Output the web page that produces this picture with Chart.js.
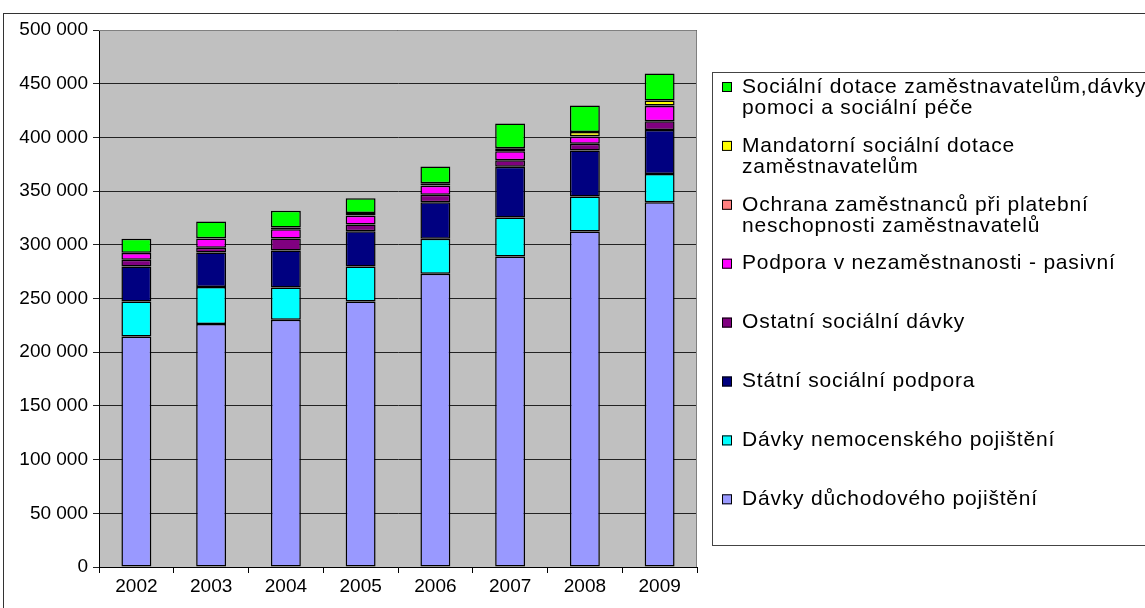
<!DOCTYPE html>
<html>
<head>
<meta charset="utf-8">
<script src="https://cdn.jsdelivr.net/npm/chart.js@4/dist/chart.umd.min.js"></script>
<style>
  html, body { margin: 0; padding: 0; background: #fff; overflow: hidden; }
  canvas { display: block; }
</style>
</head>
<body>
<canvas id="chart" width="1145" height="608"></canvas>
<script>
// data (approx.)
const years = ['2002', '2003', '2004', '2005', '2006', '2007', '2008', '2009'];
const pension       = [214700, 226200, 230200, 247300, 273000, 289100, 312400, 339700];
const sickness      = [32600, 34500, 30100, 32500, 32600, 36300, 32500, 26300];
const stateSupport  = [32500, 32100, 34400, 32900, 34100, 47200, 42800, 41000];
const otherBenefits = [6200, 4400, 11200, 6200, 6800, 6200, 6500, 8100];
const unemployment  = [6300, 8700, 8500, 8100, 8400, 8300, 6500, 14200];
const insolvency    = [300, 300, 300, 300, 300, 300, 300, 300];
const mandatory     = [0, 0, 1500, 2200, 2200, 2500, 4100, 4700];
const subsidies     = [13000, 15600, 15400, 13900, 15400, 23000, 24500, 25100];
const yTicks = [0, 50000, 100000, 150000, 200000, 250000, 300000, 350000, 400000, 450000, 500000];

const FONT = "'Liberation Sans', Arial, sans-serif";

function fmt(v) {
    return String(v).replace(/\B(?=(\d{3})+(?!\d))/g, ' ');
}

// plot background, frame and the boxed legend
const excelLook = {
    id: 'excelLook',
    beforeDraw(chart) {
        const { ctx, chartArea: a } = chart;
        ctx.save();
        ctx.fillStyle = '#C0C0C0';
        ctx.fillRect(a.left, a.top, a.right - a.left, a.bottom - a.top);
        ctx.restore();
    },
    afterDraw(chart) {
        const { ctx, chartArea: a } = chart;
        ctx.save();
        ctx.strokeStyle = '#808080';
        ctx.lineWidth = 1;
        ctx.beginPath();
        ctx.moveTo(a.left, a.top + 0.5);
        ctx.lineTo(a.right - 0.5, a.top + 0.5);
        ctx.lineTo(a.right - 0.5, a.bottom);
        ctx.stroke();

        // outer chart frame
        ctx.strokeStyle = '#333';
        ctx.strokeRect(3.5, 13.5, 1300, 700);

        // legend box
        ctx.strokeStyle = '#444';
        ctx.strokeRect(712.5, 72.5, 600, 473);

        ctx.font = '21px ' + FONT;
        ctx.letterSpacing = '0.8px';
        ctx.textBaseline = 'middle';
        const ds = chart.data.datasets.slice().reverse();
        ds.forEach((d, i) => {
            const y = 87 + i * 58.9;
            ctx.fillStyle = d.backgroundColor;
            ctx.fillRect(722, y - 5, 10, 10);
            ctx.strokeStyle = '#000';
            ctx.strokeRect(722.5, y - 4.5, 9, 9);
            ctx.fillStyle = '#000';
            d.legendLines.forEach((line, k) => {
                ctx.fillText(line, 742, y + k * 21);
            });
        });
        ctx.restore();
    }
};

function series(label, lines, data, color) {
    return {
        label: label,
        legendLines: lines,
        data: data,
        backgroundColor: color,
        borderColor: '#000',
        borderWidth: 1.5,
        borderSkipped: false,
        inflateAmount: 0,
        barPercentage: 0.4,
        categoryPercentage: 1.0
    };
}

new Chart(document.getElementById('chart').getContext('2d'), {
    type: 'bar',
    data: {
        labels: years,
        datasets: [
            series('Dávky důchodového pojištění', ['Dávky důchodového pojištění'], pension, '#9999FF'),
            series('Dávky nemocenského pojištění', ['Dávky nemocenského pojištění'], sickness, '#00FFFF'),
            series('Státní sociální podpora', ['Státní sociální podpora'], stateSupport, '#000080'),
            series('Ostatní sociální dávky', ['Ostatní sociální dávky'], otherBenefits, '#800080'),
            series('Podpora v nezaměstnanosti - pasivní', ['Podpora v nezaměstnanosti - pasivní'], unemployment, '#FF00FF'),
            series('Ochrana zaměstnanců při platební neschopnosti zaměstnavatelů',
                ['Ochrana zaměstnanců při platební', 'neschopnosti zaměstnavatelů'], insolvency, '#FF8080'),
            series('Mandatorní sociální dotace zaměstnavatelům',
                ['Mandatorní sociální dotace', 'zaměstnavatelům'], mandatory, '#FFFF00'),
            series('Sociální dotace zaměstnavatelům,dávky pomoci a sociální péče',
                ['Sociální dotace zaměstnavatelům,dávky', 'pomoci a sociální péče'], subsidies, '#00FF00')
        ]
    },
    options: {
        responsive: false,
        animation: false,
        layout: { padding: { top: 30, right: 448, left: 0, bottom: 0 } },
        plugins: {
            legend: { display: false },
            tooltip: { enabled: false }
        },
        scales: {
            x: {
                stacked: true,
                grid: { drawOnChartArea: false, tickLength: 6, color: '#000', offset: true },
                border: { color: '#000' },
                ticks: { color: '#000', font: { family: FONT, size: 19 }, padding: 2, maxRotation: 0 },
                afterFit(s) { s.height = 41; }
            },
            y: {
                stacked: true,
                min: 0,
                max: 500000,
                afterBuildTicks(s) { s.ticks = yTicks.map(v => ({ value: v })); },
                grid: { color: '#222', tickLength: 6 },
                border: { color: '#000' },
                ticks: {
                    color: '#000',
                    font: { family: FONT, size: 19 },
                    padding: 5,
                    callback: v => fmt(v)
                },
                afterFit(s) { s.width = 99; }
            }
        }
    },
    plugins: [excelLook]
});
</script>
</body>
</html>
